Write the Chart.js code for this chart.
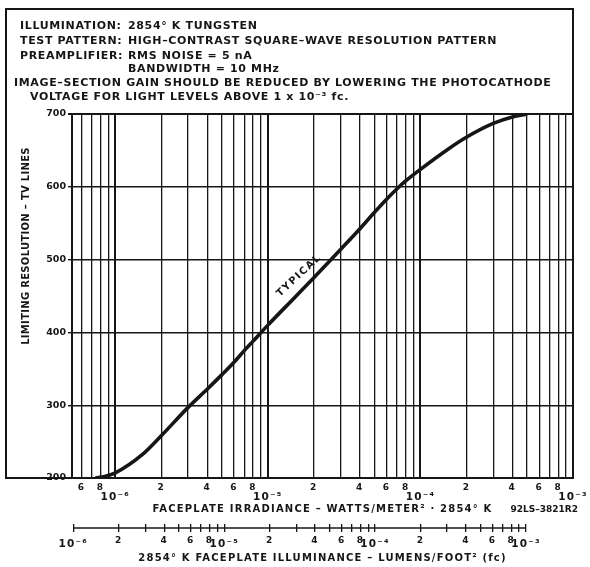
<!DOCTYPE html>
<html>
<head>
<meta charset="utf-8">
<script src="https://cdn.jsdelivr.net/npm/chart.js@4.4.1/dist/chart.umd.min.js"></script>
<style>
body{margin:0;background:#fff;}
</style>
</head>
<body>
<canvas id="resolution-chart" width="590" height="567"></canvas>
<script>
// curve: irradiance (W/m2) vs limiting resolution (TV lines)
const irradiance = [7.4e-7, 8.5e-7, 1e-6, 1.5e-6, 2e-6, 3e-6, 4e-6, 5e-6, 6e-6, 7e-6, 8e-6, 1e-5,
                    1.5e-5, 2e-5, 3e-5, 4e-5, 5e-5, 6e-5, 7e-5, 8e-5, 1e-4, 1.5e-4, 2e-4, 3e-4, 4e-4, 5e-4];
const tvLines = [200, 202, 207, 232, 258, 297, 322, 342, 359, 375, 388, 410,
                 448, 475, 514, 542, 565, 583, 597, 608, 624, 651, 668, 687, 696, 700];

const yTicks = [200, 300, 400, 500, 600, 700];
const decades = [-7, -6, -5, -4];
const mantissas = [1, 2, 3, 4, 5, 6, 7, 8, 9];
const labelledMantissas = [2, 4, 6, 8];

const headerNotes = [
    ["ILLUMINATION:", "2854° K TUNGSTEN"],
    ["TEST PATTERN:", "HIGH–CONTRAST SQUARE–WAVE RESOLUTION PATTERN"],
    ["PREAMPLIFIER:", "RMS NOISE = 5 nA"],
    ["", "BANDWIDTH = 10 MHz"],
    ["IMAGE–SECTION GAIN SHOULD BE REDUCED BY LOWERING THE PHOTOCATHODE", ""],
    ["VOLTAGE FOR LIGHT LEVELS ABOVE 1 x 10⁻³ fc.", ""]
];
const yTitle = "LIMITING RESOLUTION – TV LINES";
const xTitle = "FACEPLATE IRRADIANCE – WATTS/METER² · 2854° K";
const x2Title = "2854° K FACEPLATE ILLUMINANCE – LUMENS/FOOT² (fc)";
const drawingNo = "92LS–3821R2";
const curveLabel = "TYPICAL";

const ink = "#161616";
const FONT = '"DejaVu Sans", "Liberation Sans", sans-serif';

function sup(n){
    const map = {"-":"⁻","0":"⁰","1":"¹","2":"²","3":"³","4":"⁴","5":"⁵","6":"⁶","7":"⁷","8":"⁸","9":"⁹"};
    return String(n).split("").map(c => map[c]).join("");
}

function split_value(v){
    let e = Math.floor(Math.log10(v) + 1e-9);
    let m = Math.round(v / Math.pow(10, e));
    return {m: m, e: e};
}

function is_decade(c){
    return c.tick && split_value(c.tick.value).m === 1;
}

function build_ticks(minV, maxV){
    let list = [];
    decades.forEach(e => {
        mantissas.forEach(m => {
            let v = m * Math.pow(10, e);
            if(v >= minV * 0.999 && v <= maxV * 1.001) list.push(v);
        });
    });
    list.push(1e-3);
    return list.map(v => ({value: v}));
}

// the horizontal axis texts on the original are letter-spaced
function spaced(scale, name, spacing){
    if(scale["_spaced_" + name]) return;
    let orig = scale[name];
    scale[name] = function(){
        let ctx = this.ctx;
        let old = ctx.letterSpacing;
        ctx.letterSpacing = spacing;
        orig.apply(this, arguments);
        ctx.letterSpacing = old;
    };
    scale["_spaced_" + name] = true;
}

const notesPlugin = {
    id: "notes",
    beforeDraw(chart){
        let ctx = chart.ctx;
        ctx.save();
        ctx.fillStyle = "#fff";
        ctx.fillRect(0, 0, chart.width, chart.height);
        ctx.restore();
        ["x", "x2"].forEach(id => {
            spaced(chart.scales[id], "drawTitle", "1.2px");
            spaced(chart.scales[id], "drawLabels", "1.2px");
        });
    },
    afterDraw(chart){
        let ctx = chart.ctx;
        let area = chart.chartArea;
        let x = chart.scales.x;
        let y = chart.scales.y;
        let x2 = chart.scales.x2;
        ctx.save();
        ctx.strokeStyle = ink;
        ctx.fillStyle = ink;

        // outer frame
        ctx.lineWidth = 2;
        ctx.strokeRect(6, 9, area.right - 6, area.bottom - 9);

        // header notes
        ctx.font = "bold 11px " + FONT;
        ctx.letterSpacing = "0.65px";
        ctx.textBaseline = "middle";
        ctx.textAlign = "left";
        let rows = [26, 41.5, 56, 69.5, 83.5, 97.5];
        headerNotes.forEach((row, i) => {
            let lx = i === 4 ? 14 : (i === 5 ? 30 : 20);
            if(row[0]) ctx.fillText(row[0], lx, rows[i]);
            if(row[1]) ctx.fillText(row[1], 128, rows[i]);
        });

        // y title
        ctx.save();
        ctx.font = "bold 10px " + FONT;
        ctx.letterSpacing = "0.3px";
        ctx.translate(26, 246);
        ctx.rotate(-Math.PI / 2);
        ctx.textAlign = "center";
        ctx.fillText(yTitle, 0, 0);
        ctx.restore();

        // drawing number
        ctx.font = "bold 9px " + FONT;
        ctx.letterSpacing = "0px";
        ctx.textAlign = "right";
        ctx.fillText(drawingNo, area.right + 5, 509.5);

        // curve label
        ctx.save();
        ctx.font = "bold 10px " + FONT;
        ctx.letterSpacing = "1.5px";
        ctx.textAlign = "center";
        ctx.translate(x.getPixelForValue(1.6e-5), y.getPixelForValue(478));
        ctx.rotate(-43 * Math.PI / 180);
        ctx.fillText(curveLabel, 0, 0);
        ctx.restore();

        // illuminance ruler line
        ctx.lineWidth = 1.3;
        ctx.beginPath();
        let ry = x2.top + 4;
        ctx.moveTo(x2.getPixelForValue(1e-6), ry);
        ctx.lineTo(x2.getPixelForValue(1e-3), ry);
        ctx.stroke();
        ctx.restore();
    }
};

function setup(){
    let chart = document.querySelector("#resolution-chart");
    new Chart(chart, {
        type: "line",
        data: {
            datasets: [{
                label: curveLabel,
                data: irradiance.map((v, i) => ({x: v, y: tvLines[i]})),
                borderColor: ink,
                borderWidth: 3.6,
                pointRadius: 0,
                cubicInterpolationMode: "monotone",
                fill: false
            }]
        },
        options: {
            responsive: false,
            animation: false,
            layout: {padding: {left: 6, top: 114, right: 17, bottom: 0}},
            plugins: {legend: {display: false}, tooltip: {enabled: false}},
            scales: {
                x: {
                    type: "logarithmic",
                    position: "bottom",
                    min: 5.2e-7,
                    max: 1e-3,
                    afterBuildTicks: (s) => { s.ticks = build_ticks(6e-7, 1e-3); },
                    afterFit: (s) => { s.height = 46; },
                    grid: {
                        color: ink,
                        drawTicks: false,
                        lineWidth: (c) => is_decade(c) ? 2 : 1.3
                    },
                    border: {color: ink, width: 2},
                    ticks: {
                        autoSkip: false,
                        maxRotation: 0,
                        padding: 4,
                        color: ink,
                        font: (c) => is_decade(c)
                            ? {family: FONT, size: 10.5, weight: "bold", lineHeight: 1.0}
                            : {family: FONT, size: 9, weight: "bold"},
                        callback: (v) => {
                            let p = split_value(v);
                            if(p.m === 1) return ["", "10" + sup(p.e)];
                            if(labelledMantissas.includes(p.m)) return String(p.m);
                            return "";
                        }
                    },
                    title: {
                        display: true,
                        text: xTitle,
                        color: ink,
                        padding: {top: 0, bottom: 8.5},
                        font: {family: FONT, size: 10, weight: "bold"}
                    }
                },
                x2: {
                    type: "logarithmic",
                    position: "bottom",
                    min: 0.98e-6,
                    max: 2.05e-3,
                    afterBuildTicks: (s) => { s.ticks = build_ticks(1e-6, 1e-3); },
                    afterFit: (s) => { s.height = 43; },
                    grid: {color: ink, drawOnChartArea: false, drawTicks: true, tickLength: 8, lineWidth: 1.3},
                    border: {display: false},
                    ticks: {
                        autoSkip: false,
                        maxRotation: 0,
                        padding: 3,
                        color: ink,
                        font: (c) => is_decade(c)
                            ? {family: FONT, size: 10.5, weight: "bold", lineHeight: 1.8}
                            : {family: FONT, size: 9, weight: "bold"},
                        callback: (v) => {
                            let p = split_value(v);
                            if(p.m === 1) return "10" + sup(p.e);
                            if(labelledMantissas.includes(p.m)) return String(p.m);
                            return "";
                        }
                    },
                    title: {
                        display: true,
                        text: x2Title,
                        color: ink,
                        padding: {top: 0, bottom: 3},
                        font: {family: FONT, size: 10, weight: "bold"}
                    }
                },
                y: {
                    type: "linear",
                    min: 200,
                    max: 700,
                    afterBuildTicks: (s) => { s.ticks = yTicks.map(v => ({value: v})); },
                    afterFit: (s) => { s.width = 66; },
                    grid: {color: ink, tickLength: 4, lineWidth: (c) => (c.tick && c.tick.value === 700) ? 2 : 1.4},
                    border: {color: ink, width: 2},
                    ticks: {
                        padding: 2,
                        color: ink,
                        font: {family: FONT, size: 9.5, weight: "bold"}
                    }
                }
            }
        },
        plugins: [notesPlugin]
    });
}

setup()
</script>
</body>
</html>
